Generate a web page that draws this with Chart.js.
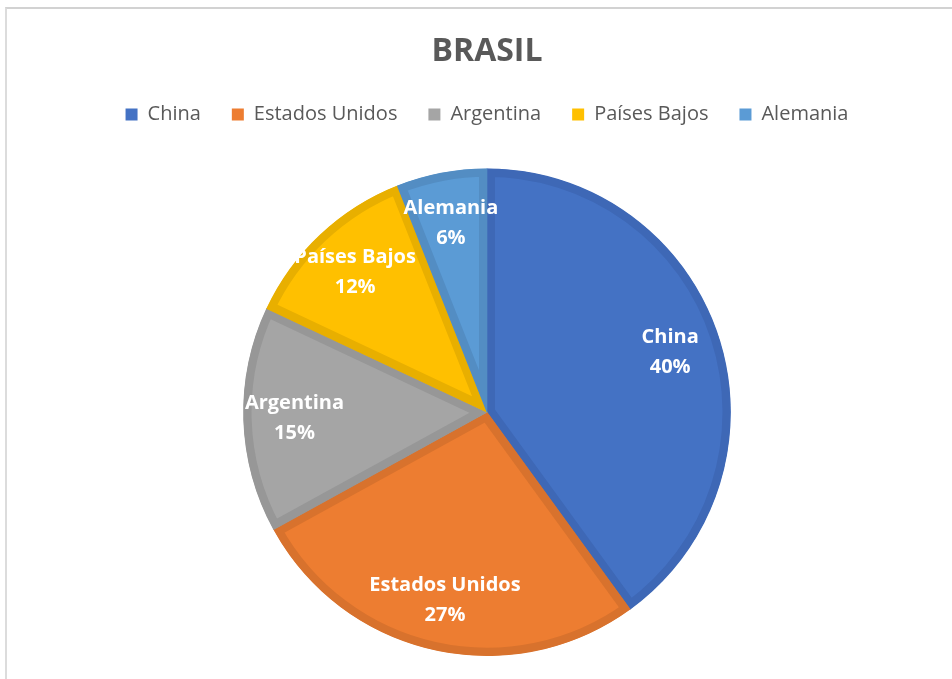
<!DOCTYPE html>
<html>
<head>
<meta charset="utf-8">
<script src="https://cdn.jsdelivr.net/npm/chart.js@4/dist/chart.umd.min.js"></script>
<style>
  html, body { margin: 0; padding: 0; background: #fff; }
  #wrap { position: relative; width: 952px; height: 679px; overflow: hidden; }
  #frame { position: absolute; left: 5px; top: 7px; width: 960px; height: 690px;
           border-top: 2px solid #d2d2d2; border-left: 2px solid #dcdcdc; }
  canvas { position: absolute; left: 0; top: 0; }
</style>
</head>
<body>
<div id="wrap">
  <div id="frame"></div>
  <canvas id="c" width="952" height="679"></canvas>
</div>
<script>
const categories = ['China', 'Estados Unidos', 'Argentina', 'Países Bajos', 'Alemania'];
const values = [40, 27, 15, 12, 6];
const fillColors = ['#4472C4', '#ED7D31', '#A5A5A5', '#FFC000', '#5B9BD5'];
const borderColors = ['#3E68B6', '#D8722D', '#979797', '#E8AF00', '#538DC3'];
const chartTitle = 'BRASIL';

const legendSpacer = {
  id: 'legendSpacer',
  beforeInit(chart) {
    const orig = chart.legend.fit;
    chart.legend.fit = function () {
      orig.call(this);
      this.height += 34;
    };
  }
};

const sliceLabels = {
  id: 'sliceLabels',
  afterDatasetsDraw(chart) {
    const ctx = chart.ctx;
    const meta = chart.getDatasetMeta(0);
    const data = chart.data.datasets[0].data;
    const total = data.reduce((a, b) => a + b, 0);
    ctx.save();
    ctx.fillStyle = '#ffffff';
    ctx.font = 'bold 20px "Open Sans"';
    ctx.textAlign = 'center';
    ctx.textBaseline = 'middle';
    meta.data.forEach((arc, i) => {
      const p = arc.getProps(['x', 'y', 'startAngle', 'endAngle', 'outerRadius'], true);
      const mid = (p.startAngle + p.endAngle) / 2;
      const r = p.outerRadius * 0.79;
      const cx = p.x + Math.cos(mid) * r;
      const cy = p.y + Math.sin(mid) * r;
      ctx.fillText(chart.data.labels[i], cx, cy - 15);
      ctx.fillText(Math.round(data[i] / total * 100) + '%', cx, cy + 15);
    });
    ctx.restore();
  }
};

new Chart(document.getElementById('c'), {
  type: 'pie',
  data: {
    labels: categories,
    datasets: [{
      data: values,
      backgroundColor: fillColors,
      borderColor: borderColors,
      borderWidth: 8,
      borderAlign: 'inner',
      borderJoinStyle: 'miter',
      hoverOffset: 0
    }]
  },
  options: {
    responsive: false,
    animation: false,
    events: [],
    layout: { padding: { left: 22, top: 0, right: 0, bottom: 23 } },
    plugins: {
      tooltip: { enabled: false },
      title: {
        display: true,
        text: chartTitle,
        color: '#595959',
        font: { family: '"Open Sans"', size: 32, weight: 'bold', lineHeight: 1.2 },
        padding: { top: 33, bottom: 2 }
      },
      legend: {
        display: true,
        position: 'top',
        labels: {
          color: '#595959',
          font: { family: '"Open Sans"', size: 20 },
          boxWidth: 12,
          boxHeight: 12,
          padding: 31,
          generateLabels(chart) {
            const items = Chart.overrides.pie.plugins.legend.labels.generateLabels(chart);
            items.forEach((it, i) => { it.lineWidth = 0; it.strokeStyle = fillColors[i]; it.fillStyle = fillColors[i]; });
            return items;
          }
        }
      }
    }
  },
  plugins: [legendSpacer, sliceLabels]
});
</script>
</body>
</html>
